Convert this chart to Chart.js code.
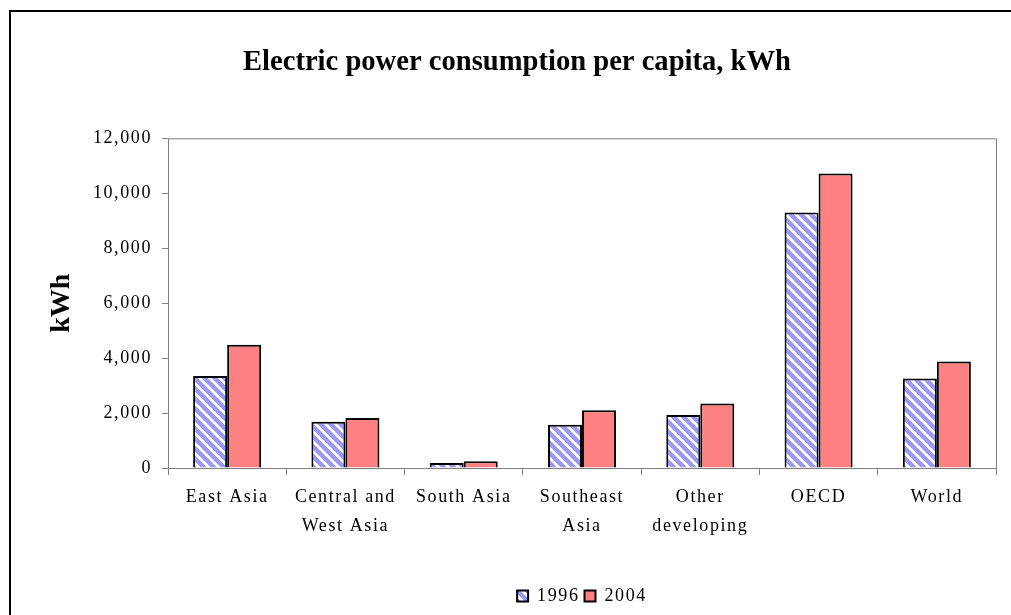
<!DOCTYPE html>
<html>
<head>
<meta charset="utf-8">
<script src="https://cdn.jsdelivr.net/npm/chart.js@4/dist/chart.umd.min.js"></script>
<style>
  html, body { margin: 0; padding: 0; background: #fff; overflow: hidden; }
  #wrap { width: 1011px; height: 615px; position: relative; }
</style>
</head>
<body>
<div id="wrap"><canvas id="chart" width="1011" height="615"></canvas></div>
<script>
const categories = [
  'East Asia',
  ['Central and', 'West Asia'],
  'South Asia',
  ['Southeast', 'Asia'],
  ['Other', 'developing'],
  'OECD',
  'World'
];
const values1996 = [3350, 1680, 180, 1570, 1930, 9300, 3260];
const values2004 = [4490, 1820, 250, 2100, 2345, 10720, 3880];
const seriesNames = ['1996', '2004'];

// diagonal stripe pattern for 1996
function stripes() {
  const c = document.createElement('canvas');
  c.width = 10; c.height = 10;
  const g = c.getContext('2d');
  const img = g.createImageData(10, 10);
  for (let y = 0; y < 10; y++) {
    for (let x = 0; x < 10; x++) {
      const i = (y * 10 + x) * 4;
      const white = ((x - y) % 10 + 10) % 10 < 4;
      img.data[i] = white ? 255 : 0x99;
      img.data[i + 1] = white ? 255 : 0x99;
      img.data[i + 2] = 255;
      img.data[i + 3] = 255;
    }
  }
  g.putImageData(img, 0, 0);
  return g.createPattern(c, 'repeat');
}

const canvas = document.getElementById('chart');
const ctx = canvas.getContext('2d');

// the original uses spaced-out regular text, bold text is not spaced
const fontProp = Object.getOwnPropertyDescriptor(CanvasRenderingContext2D.prototype, 'font');
Object.defineProperty(ctx, 'font', {
  get() { return fontProp.get.call(this); },
  set(v) {
    fontProp.set.call(this, v);
    this.letterSpacing = /bold/.test(v) ? '0px' : '1.6px';
  }
});

const frame = {
  id: 'frame',
  beforeDraw(chart) {
    const c = chart.ctx;
    c.save();
    c.fillStyle = '#fff';
    c.fillRect(0, 0, chart.width, chart.height);
    c.strokeStyle = '#000';
    c.lineWidth = 2;
    c.strokeRect(10, 11, 1100, 700);
    c.restore();
  },
  afterDatasetsDraw(chart) {
    const a = chart.chartArea;
    const c = chart.ctx;
    c.save();
    c.strokeStyle = '#808080';
    c.lineWidth = 1;
    c.beginPath();
    c.moveTo(a.left, a.top + 0.5);
    c.lineTo(a.right + 0.5, a.top + 0.5);
    c.lineTo(a.right + 0.5, a.bottom);
    c.stroke();
    c.restore();
  }
};

const serif = 'Liberation Serif';

new Chart(ctx, {
  type: 'bar',
  data: {
    labels: categories,
    datasets: [
      {
        label: seriesNames[0],
        data: values1996,
        backgroundColor: stripes(),
        borderColor: '#000',
        borderWidth: 2
      },
      {
        label: seriesNames[1],
        data: values2004,
        backgroundColor: '#FF8080',
        borderColor: '#000',
        borderWidth: 2
      }
    ]
  },
  options: {
    responsive: false,
    animation: false,
    categoryPercentage: 0.575,
    barPercentage: 1.0,
    layout: { padding: { left: 38, right: 15, top: 0, bottom: 0 } },
    plugins: {
      title: {
        display: true,
        text: 'Electric power consumption per capita, kWh',
        color: '#000',
        font: { family: serif, size: 28.6, weight: 'bold', lineHeight: 1.2 },
        padding: { top: 45, bottom: 59 }
      },
      legend: {
        position: 'bottom',
        fullSize: false,
        labels: {
          color: '#000',
          font: { family: serif, size: 18 },
          boxWidth: 11,
          boxHeight: 11,
          padding: 5
        }
      },
      tooltip: { enabled: false }
    },
    scales: {
      x: {
        afterFit(s) { s.height = 114; },
        grid: { display: true, offset: true, drawOnChartArea: false, tickLength: 7, color: '#808080' },
        border: { display: true, color: '#808080' },
        ticks: {
          color: '#000',
          font: { family: serif, size: 18, lineHeight: 1.6 },
          padding: 8,
          maxRotation: 0,
          autoSkip: false
        }
      },
      y: {
        min: 0,
        max: 12000,
        afterFit(s) { s.width = 130; },
        grid: { display: true, drawOnChartArea: false, tickLength: 6, color: '#808080' },
        border: { display: true, color: '#808080' },
        ticks: {
          stepSize: 2000,
          color: '#000',
          font: { family: serif, size: 18 },
          padding: 10,
          callback: v => v.toLocaleString('en-US')
        },
        title: {
          display: true,
          text: 'kWh',
          color: '#000',
          font: { family: serif, size: 28, weight: 'bold' },
          padding: { top: 7, bottom: 0 }
        }
      }
    }
  },
  plugins: [frame]
});
</script>
</body>
</html>
